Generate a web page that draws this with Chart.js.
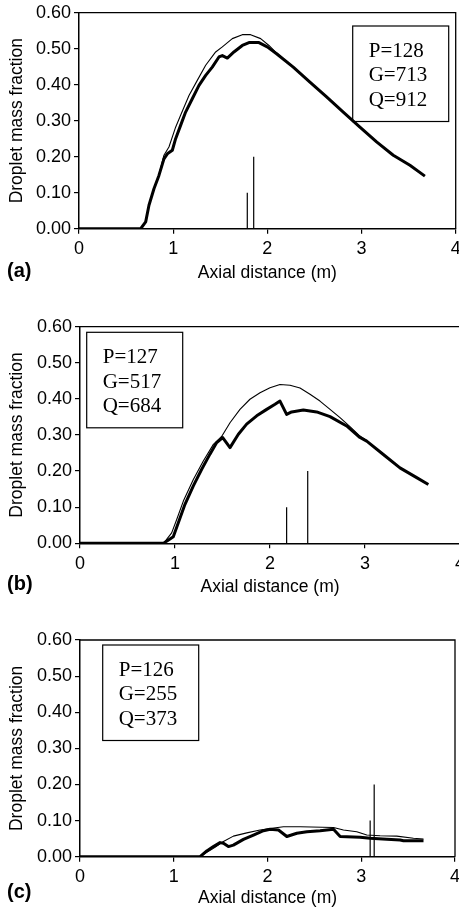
<!DOCTYPE html>
<html>
<head>
<meta charset="utf-8">
<script src="https://cdn.jsdelivr.net/npm/chart.js@4/dist/chart.umd.min.js"></script>
<style>
  html, body { margin: 0; padding: 0; background: #fff; overflow: hidden; width: 459px; height: 909px; }
  canvas { position: absolute; left: 0; }
</style>
</head>
<body>
<canvas id="chartA"></canvas>
<canvas id="chartB"></canvas>
<canvas id="chartC"></canvas>
<script>
// axis ticks
const xTicks = [0, 1, 2, 3, 4];
const yTicks = [0, 0.1, 0.2, 0.3, 0.4, 0.5, 0.6];

// panel (a)
const aThickX = [0, 0.655, 0.708, 0.743, 0.796, 0.849, 0.902, 0.938, 0.991, 1.026, 1.079, 1.132, 1.203, 1.274, 1.345, 1.415, 1.486, 1.522, 1.575, 1.645, 1.734, 1.805, 1.911, 1.999, 2.098, 2.275, 2.452, 2.629, 2.806, 2.983, 3.160, 3.337, 3.514, 3.673];
const aThickY = [0, 0, 0.019, 0.065, 0.111, 0.148, 0.194, 0.208, 0.218, 0.250, 0.287, 0.324, 0.361, 0.398, 0.426, 0.449, 0.477, 0.481, 0.474, 0.491, 0.509, 0.517, 0.517, 0.505, 0.486, 0.449, 0.407, 0.366, 0.324, 0.282, 0.241, 0.204, 0.176, 0.146];
const aThinX = [0, 0.655, 0.708, 0.743, 0.796, 0.849, 0.902, 0.955, 1.026, 1.079, 1.168, 1.256, 1.345, 1.451, 1.522, 1.628, 1.734, 1.822, 1.929, 2.017, 2.098, 2.275];
const aThinY = [0, 0, 0.019, 0.065, 0.111, 0.150, 0.204, 0.227, 0.282, 0.315, 0.370, 0.412, 0.454, 0.491, 0.505, 0.528, 0.539, 0.539, 0.528, 0.509, 0.488, 0.449];
const aMarkX = [1.787, 1.855];
const aMarkH = [0.10, 0.20];
const aLabels = ["P=128", "G=713", "Q=912"];

// panel (b)
const bThickX = [0, 0.88, 0.912, 0.982, 1.035, 1.105, 1.193, 1.281, 1.368, 1.439, 1.502, 1.579, 1.667, 1.754, 1.860, 1.965, 2.053, 2.105, 2.175, 2.228, 2.351, 2.491, 2.632, 2.807, 2.947, 3.018, 3.193, 3.368, 3.544, 3.667];
const bThickY = [0, 0, 0.006, 0.018, 0.057, 0.108, 0.159, 0.205, 0.247, 0.279, 0.293, 0.265, 0.302, 0.330, 0.353, 0.371, 0.385, 0.394, 0.357, 0.364, 0.369, 0.364, 0.351, 0.325, 0.293, 0.283, 0.246, 0.209, 0.182, 0.163];
const bThinX = [0, 0.88, 0.912, 0.965, 1.018, 1.088, 1.193, 1.298, 1.404, 1.491, 1.579, 1.684, 1.789, 1.895, 2.0, 2.105, 2.211, 2.316, 2.421, 2.526, 2.632, 2.737, 2.842, 2.947, 3.018];
const bThinY = [0, 0, 0.011, 0.029, 0.066, 0.117, 0.177, 0.228, 0.274, 0.296, 0.334, 0.371, 0.399, 0.417, 0.431, 0.440, 0.438, 0.430, 0.413, 0.394, 0.371, 0.348, 0.323, 0.297, 0.285];
const bMarkX = [2.175, 2.397];
const bMarkH = [0.10, 0.20];
const bLabels = ["P=127", "G=517", "Q=684"];

// panel (c)
const cThickX = [0, 1.281, 1.352, 1.423, 1.494, 1.530, 1.583, 1.636, 1.743, 1.850, 1.957, 2.028, 2.117, 2.206, 2.313, 2.420, 2.561, 2.704, 2.775, 2.988, 3.095, 3.273, 3.415, 3.450, 3.664];
const cThickY = [0, 0, 0.016, 0.028, 0.039, 0.037, 0.028, 0.032, 0.048, 0.060, 0.072, 0.076, 0.074, 0.056, 0.065, 0.069, 0.072, 0.076, 0.056, 0.054, 0.051, 0.048, 0.046, 0.044, 0.044];
const cThinX = [0, 1.281, 1.300, 1.423, 1.530, 1.636, 1.779, 1.921, 2.028, 2.170, 2.348, 2.704, 2.810, 2.952, 3.059, 3.201, 3.379, 3.557, 3.664];
const cThinY = [0, 0, 0.004, 0.023, 0.042, 0.057, 0.066, 0.074, 0.078, 0.083, 0.083, 0.081, 0.074, 0.069, 0.060, 0.058, 0.057, 0.051, 0.049];
const cMarkX = [3.095, 3.138];
const cMarkH = [0.10, 0.20];
const cLabels = ["P=126", "G=255", "Q=373"];

const panelNames = ["(a)", "(b)", "(c)"];

const sansFamily = "'Liberation Sans', Arial, sans-serif";
const serifFamily = "'Liberation Serif', 'Times New Roman', serif";

function points(xs, ys) {
    return xs.map((x, i) => ({ x: x, y: ys[i] }));
}

// frame, parameter box and panel letter
const decorPlugin = {
    id: 'decor',
    afterDraw(chart, args, opts) {
        const ctx = chart.ctx;
        const a = chart.chartArea;
        ctx.save();
        ctx.strokeStyle = '#000';
        ctx.lineWidth = 1.3;
        ctx.beginPath();
        ctx.moveTo(a.left, a.top);
        ctx.lineTo(a.right, a.top);
        ctx.lineTo(a.right, a.bottom);
        ctx.stroke();

        // parameter box
        const bx = a.left + opts.boxDx;
        const by = a.top + opts.boxDy;
        ctx.lineWidth = 1.2;
        ctx.strokeRect(bx, by, 96, 95.5);
        ctx.fillStyle = '#000';
        ctx.font = "21px " + serifFamily;
        ctx.textAlign = 'left';
        ctx.textBaseline = 'alphabetic';
        opts.labels.forEach((t, i) => {
            ctx.fillText(t, bx + 16, by + 31 + i * 24.4);
        });

        // panel letter
        ctx.font = "bold 20px " + sansFamily;
        ctx.textBaseline = 'middle';
        ctx.fillText(opts.name, 7, opts.nameY);
        ctx.restore();
    }
};

function makePanel(id, cfg) {
    const canvas = document.getElementById(id);
    canvas.width = cfg.width;
    canvas.height = cfg.height;
    canvas.style.top = cfg.top + 'px';
    canvas.style.width = cfg.width + 'px';
    canvas.style.height = cfg.height + 'px';

    const datasets = [
        { data: points(cfg.thickX, cfg.thickY), borderColor: '#000', borderWidth: 3 },
        { data: points(cfg.thinX, cfg.thinY), borderColor: '#000', borderWidth: 1.1 }
    ];
    cfg.markX.forEach((x, i) => {
        datasets.push({ data: [{ x: x, y: 0 }, { x: x, y: cfg.markH[i] }], borderColor: '#000', borderWidth: 1.2 });
    });
    datasets.forEach(d => {
        d.pointRadius = 0;
        d.tension = 0;
        d.fill = false;
        d.borderJoinStyle = 'round';
        d.borderCapStyle = 'butt';
    });

    const areaTop = cfg.areaTop - cfg.top;
    const areaBottom = cfg.areaBottom - cfg.top;

    new Chart(canvas.getContext('2d'), {
        type: 'line',
        data: { datasets: datasets },
        options: {
            responsive: false,
            animation: false,
            devicePixelRatio: 1,
            layout: { padding: { left: 0, top: areaTop, right: cfg.width - cfg.areaRight, bottom: 0 } },
            plugins: {
                legend: { display: false },
                tooltip: { enabled: false },
                decor: { labels: cfg.labels, boxDx: cfg.boxDx, boxDy: cfg.boxDy, name: cfg.name, nameY: cfg.nameY - cfg.top }
            },
            scales: {
                x: {
                    type: 'linear',
                    min: xTicks[0],
                    max: xTicks[xTicks.length - 1],
                    afterBuildTicks: s => { s.ticks = xTicks.map(v => ({ value: v })); },
                    afterFit: s => {
                        s.height = cfg.height - areaBottom;
                        s.paddingLeft = 0; s.paddingRight = 0;
                    },
                    grid: { display: true, drawOnChartArea: false, drawTicks: true, tickLength: 5, color: '#000', lineWidth: 1.2 },
                    border: { display: true, color: '#000', width: 1.5 },
                    ticks: { color: '#000', padding: 5, maxRotation: 0, font: { family: sansFamily, size: 18 }, callback: v => String(v) },
                    title: { display: true, text: 'Axial distance (m)', color: '#000', padding: { top: 0, bottom: 0 }, font: { family: sansFamily, size: 17.5 } }
                },
                y: {
                    type: 'linear',
                    min: yTicks[0],
                    max: yTicks[yTicks.length - 1],
                    afterBuildTicks: s => { s.ticks = yTicks.map(v => ({ value: v })); },
                    afterFit: s => {
                        s.width = cfg.areaLeft;
                        s.paddingTop = 0; s.paddingBottom = 0;
                    },
                    grid: { display: true, drawOnChartArea: false, drawTicks: true, tickLength: 5, color: '#000', lineWidth: 1.2 },
                    border: { display: true, color: '#000', width: 1.5 },
                    ticks: { color: '#000', padding: 3, font: { family: sansFamily, size: 18 }, callback: v => v.toFixed(2) },
                    title: { display: true, text: 'Droplet mass fraction', color: '#000', padding: { top: 7, bottom: 0 }, font: { family: sansFamily, size: 17.5 } }
                }
            }
        },
        plugins: [decorPlugin]
    });
}

makePanel('chartA', {
    top: 0, width: 459, height: 284,
    areaLeft: 79, areaRight: 455.7, areaTop: 12.7, areaBottom: 228.7,
    thickX: aThickX, thickY: aThickY, thinX: aThinX, thinY: aThinY,
    markX: aMarkX, markH: aMarkH, labels: aLabels,
    boxDx: 273.7, boxDy: 13.3, name: panelNames[0], nameY: 271.5
});
makePanel('chartB', {
    top: 300, width: 470, height: 298,
    areaLeft: 80, areaRight: 460, areaTop: 326.7, areaBottom: 543.3,
    thickX: bThickX, thickY: bThickY, thinX: bThinX, thinY: bThinY,
    markX: bMarkX, markH: bMarkH, labels: bLabels,
    boxDx: 6.7, boxDy: 5.6, name: panelNames[1], nameY: 584.5
});
makePanel('chartC', {
    top: 610, width: 459, height: 299,
    areaLeft: 80, areaRight: 455, areaTop: 640, areaBottom: 856.7,
    thickX: cThickX, thickY: cThickY, thinX: cThinX, thinY: cThinY,
    markX: cMarkX, markH: cMarkH, labels: cLabels,
    boxDx: 22.7, boxDy: 5, name: panelNames[2], nameY: 892.5
});
</script>
</body>
</html>
